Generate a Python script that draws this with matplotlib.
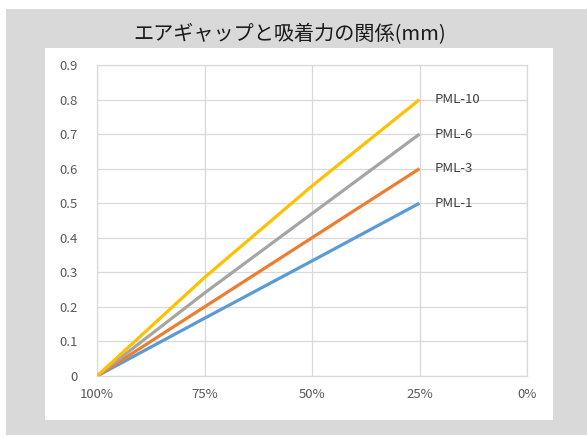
import matplotlib
matplotlib.use('Agg')
import matplotlib.pyplot as plt
from matplotlib.patches import Rectangle

plt.rcParams['font.family'] = ['Noto Sans CJK JP', 'DejaVu Sans']

# data
Categories = ['100%', '75%', '50%', '25%', '0%']
SeriesNames = ['PML-1', 'PML-3', 'PML-6', 'PML-10']
PML1 = [0, 0.167, 0.333, 0.5]
PML3 = [0, 0.2, 0.4, 0.6]
PML6 = [0, 0.24, 0.47, 0.7]
PML10 = [0, 0.285, 0.55, 0.8]
SeriesValues = [PML1, PML3, PML6, PML10]
Colors = ['#5b9bd5', '#ed7d31', '#a5a5a5', '#ffc000']
Title = 'エアギャップと吸着力の関係(mm)'

W, H = 587, 437
fig = plt.figure(figsize=(W / 100, H / 100), dpi=100)
fig.patch.set_facecolor('white')

# gray frame and white panel (pixel coords -> figure fraction)
def box(x0, y0, x1, y1, color):
    fig.patches.append(Rectangle((x0 / W, 1 - y1 / H), (x1 - x0) / W, (y1 - y0) / H,
                                 transform=fig.transFigure, facecolor=color,
                                 edgecolor='none', zorder=-10))

box(6, 9, 587, 435, '#d9d9d9')
box(45, 48, 553, 420, 'white')

ax = fig.add_axes([97 / W, 1 - 376 / H, (527 - 97) / W, (376 - 65) / H])
ax.set_facecolor('white')

for Vals, Name, Col in zip(SeriesValues, SeriesNames, Colors):
    x = list(range(len(Vals)))
    ax.plot(x, Vals, color=Col, linewidth=2.3, solid_capstyle='butt', zorder=3)
    ax.text(x[-1] + 0.14, Vals[-1], Name, fontsize=9.5, color='#404040',
            va='center', ha='left', zorder=4)

ax.set_xlim(0, len(Categories) - 1)
ax.set_ylim(0, 0.9)
ax.set_xticks(range(len(Categories)))
ax.set_xticklabels(Categories)
Yticks = [i / 10 for i in range(10)]
ax.set_yticks(Yticks)
ax.set_yticklabels(['0'] + ['%.1f' % v for v in Yticks[1:]])
ax.grid(True, color='#d9d9d9', linewidth=0.9)
ax.set_axisbelow(True)
for s in ax.spines.values():
    s.set_color('#d9d9d9')
    s.set_linewidth(0.9)
ax.tick_params(length=0, labelsize=9.5, labelcolor='#595959')
ax.tick_params(axis='y', pad=14)
ax.tick_params(axis='x', pad=9)

fig.text(290 / W, 1 - 35 / H, Title, fontsize=14.5, color='#1a1a1a',
         ha='center', va='center')

fig.savefig('out.png', dpi=100)
